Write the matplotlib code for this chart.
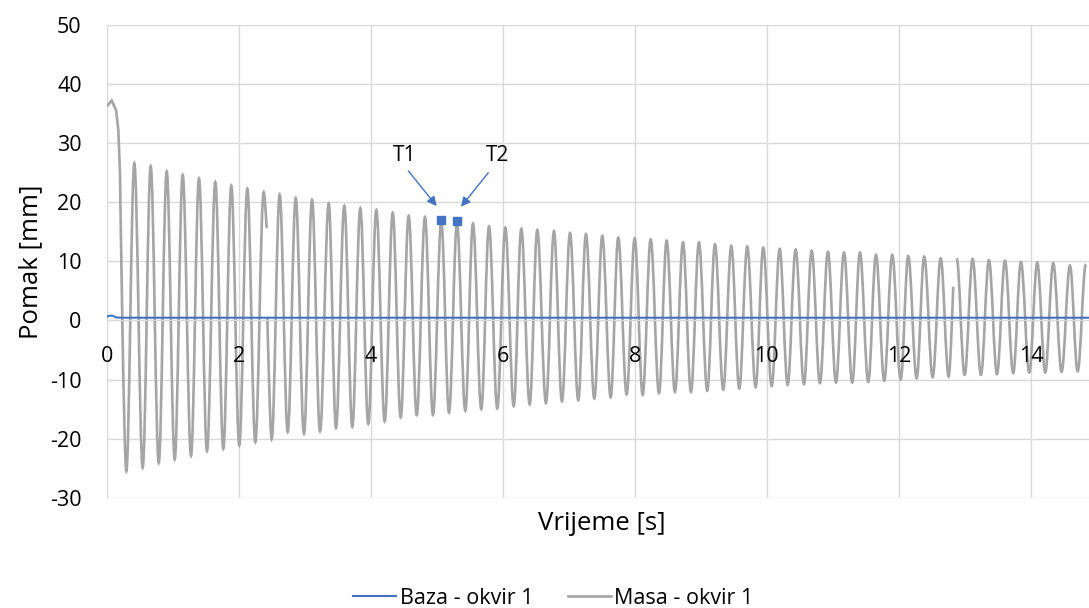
import numpy as np
import matplotlib
matplotlib.use('Agg')
import matplotlib.pyplot as plt
from matplotlib.path import Path
from matplotlib.patches import PathPatch
from matplotlib.lines import Line2D

# vrhovi (maksimumi) signala mase - ocitano sa slike
vrh_t = [0.418, 0.666, 0.909, 1.151, 1.398, 1.645, 1.887, 2.130, 2.378, 2.620,
         2.863, 3.110, 3.363, 3.599, 3.841, 4.084, 4.332, 4.574, 4.821, 5.068,
         5.306, 5.548, 5.791, 6.038, 6.280, 6.522, 6.775, 7.018, 7.260, 7.507,
         7.749, 7.998, 8.240, 8.482, 8.729, 8.971, 9.214, 9.461, 9.703, 9.945,
         10.194, 10.436, 10.679, 10.925, 11.168, 11.410, 11.653, 11.899, 12.142, 12.384,
         12.633, 12.875, 13.117, 13.364, 13.607, 13.849, 14.096, 14.338, 14.591, 14.833]
vrh_v = [26.6, 26.1, 25.2, 24.6, 24.0, 23.4, 22.8, 22.3, 21.7, 21.3,
         20.7, 20.4, 19.8, 19.4, 19.0, 18.7, 18.2, 17.7, 17.5, 16.7,
         16.4, 16.4, 15.9, 15.7, 15.5, 15.3, 15.1, 14.8, 14.6, 14.3,
         14.0, 13.9, 13.7, 13.5, 13.2, 13.2, 12.9, 12.6, 12.5, 12.3,
         12.1, 12.0, 11.8, 11.6, 11.5, 11.5, 11.1, 11.1, 10.9, 10.8,
         10.5, 10.5, 10.4, 10.2, 10.1, 9.9, 9.8, 9.7, 9.3, 9.5]

# dolovi (minimumi)
dol_t = [0.297, 0.545, 0.788, 1.030, 1.277, 1.519, 1.766, 2.008, 2.251, 2.499,
         2.742, 2.988, 3.231, 3.473, 3.720, 3.962, 4.211, 4.453, 4.696, 4.942,
         5.185, 5.432, 5.674, 5.916, 6.165, 6.407, 6.654, 6.896, 7.143, 7.386,
         7.634, 7.876, 8.119, 8.366, 8.608, 8.850, 9.097, 9.339, 9.582, 9.830,
         10.073, 10.315, 10.562, 10.804, 11.047, 11.294, 11.536, 11.778, 12.027, 12.269,
         12.512, 12.754, 12.996, 13.243, 13.486, 13.732, 13.975, 14.217, 14.465, 14.708]
dol_v = [-25.5, -24.9, -24.1, -23.5, -22.9, -22.1, -21.7, -21.1, -20.6, -20.1,
         -18.9, -19.2, -18.8, -18.2, -18.0, -17.5, -17.1, -16.4, -16.0, -16.0,
         -15.6, -15.3, -15.0, -14.9, -14.5, -14.2, -14.0, -13.7, -13.5, -13.2,
         -13.0, -12.5, -12.6, -12.3, -12.1, -12.1, -11.9, -11.7, -11.5, -11.3,
         -11.1, -10.9, -10.8, -10.6, -10.5, -10.5, -10.4, -10.2, -10.0, -9.8,
         -9.6, -9.5, -9.2, -9.2, -9.1, -8.9, -8.8, -8.8, -8.7, -8.6]

# pocetni otklon i prekidi u zapisu
pocetak_t = [0.0, 0.076, 0.141, 0.176, 0.201]
pocetak_v = [36.2, 37.2, 35.6, 32.2, 24.9]
prekid_t = [2.423, 2.428, 2.433, 12.823, 12.850]
prekid_v = [15.6, np.nan, 0.6, 5.7, np.nan]

# baza
baza_t = [0.0, 0.04, 0.09, 0.14, 0.25, 14.9]
baza_v = [0.6, 0.8, 0.8, 0.5, 0.46, 0.46]

# tocke T1, T2
tocke_t = [5.064, 5.306]
tocke_v = [17.0, 16.9]
tocke_lab = ['T1', 'T2']

plt.rcParams['font.family'] = ['Open Sans', 'DejaVu Sans']
plt.rcParams['axes.unicode_minus'] = False

t = np.array(pocetak_t + vrh_t + dol_t + prekid_t)
v = np.array(pocetak_v + vrh_v + dol_v + prekid_v)
ekstrem = np.array([False] * len(pocetak_t) + [True] * (len(vrh_t) + len(dol_t))
                   + [False] * len(prekid_t))
red = np.argsort(t)
t, v, ekstrem = t[red], v[red], ekstrem[red]

# glatka krivulja kroz ocitane tocke (vodoravna tangenta u vrhovima i dolovima)
k = 0.3634
verts, codes = [], []
novi = True
for i in range(len(t)):
    if np.isnan(v[i]):
        novi = True
        continue
    if novi:
        verts.append((t[i], v[i]))
        codes.append(Path.MOVETO)
        novi = False
        continue
    t0, v0, t1, v1 = t[i - 1], v[i - 1], t[i], v[i]
    dt = t1 - t0
    p1 = (t0 + k * dt, v0) if ekstrem[i - 1] else (t0, v0)
    p2 = (t1 - k * dt, v1) if ekstrem[i] else (t1, v1)
    verts += [p1, p2, (t1, v1)]
    codes += [Path.CURVE4] * 3

fig = plt.figure(figsize=(10.89, 6.08), dpi=100)
ax = fig.add_axes([0.098, 0.1814, 0.902, 0.7775])

siva = '#A5A5A5'
plava = '#4472C4'

ax.plot(baza_t, baza_v, color=plava, lw=1.5, zorder=3)
ax.add_patch(PathPatch(Path(verts, codes), fill=False, edgecolor=siva, lw=1.9, zorder=2))
ax.plot(tocke_t, tocke_v, 's', color=plava, ms=5.6, zorder=4)

# oznake T1, T2 sa strelicama
ax.text(4.518, 27.9, tocke_lab[0], fontsize=15, ha='center', va='center')
ax.text(5.927, 27.9, tocke_lab[1], fontsize=15, ha='center', va='center')
strelica = dict(arrowstyle='-|>', color=plava, lw=1, shrinkA=0, shrinkB=0, mutation_scale=14)
ax.annotate('', xy=(4.998, 19.36), xytext=(4.568, 25.33), arrowprops=strelica)
ax.annotate('', xy=(5.367, 19.24), xytext=(5.780, 24.99), arrowprops=strelica)

ax.set_xlim(0, 14.88)
ax.set_ylim(-30, 50)
xt = np.arange(0, 15, 2)
ax.set_xticks(xt)
ax.set_yticks(np.arange(-30, 51, 10))
ax.grid(True, color='#D9D9D9', lw=1)
ax.set_axisbelow(True)
for s in ['top', 'right', 'left']:
    ax.spines[s].set_visible(False)
ax.spines['bottom'].set_position(('data', 0))
ax.spines['bottom'].set_color('#D9D9D9')
ax.tick_params(axis='both', length=0, labelsize=15.5, colors='#000000')
ax.tick_params(axis='x', labelbottom=False)
ax.tick_params(axis='y', pad=18)

# oznake x osi iznad krivulja (kao u Excelu)
for x in xt:
    ax.annotate(f'{x:g}', xy=(x, 0), xytext=(0, -36), textcoords='offset pixels',
                ha='center', va='center', fontsize=15.5, zorder=6, annotation_clip=False)

ax.set_ylabel('Pomak [mm]', fontsize=18.5, labelpad=5)
fig.text(0.5525, 1 - 523 / 608, 'Vrijeme [s]', fontsize=18.5, ha='center', va='center')

ruke = [Line2D([], [], color=plava, lw=1.5), Line2D([], [], color=siva, lw=1.9)]
fig.legend(ruke, ['Baza - okvir 1', 'Masa - okvir 1'], loc='center',
           bbox_to_anchor=(0.508, 0.0164), ncol=2, frameon=False,
           fontsize=15.5, handlelength=2.0, columnspacing=1.6, handletextpad=0.15)

fig.savefig('out.png', dpi=100)
